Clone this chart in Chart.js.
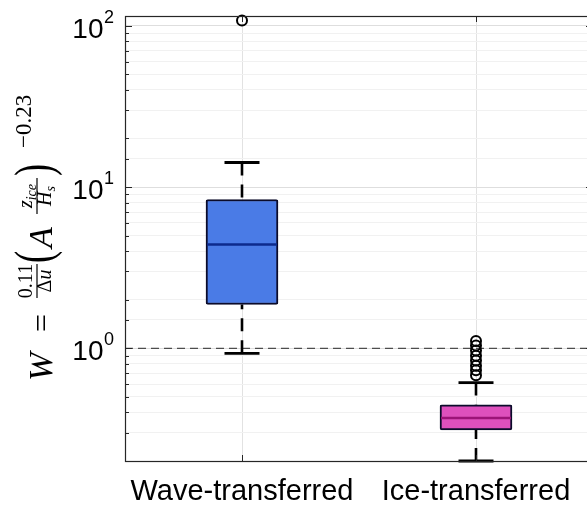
<!DOCTYPE html>
<html>
<head>
<meta charset="utf-8">
<script src="https://cdn.jsdelivr.net/npm/chart.js@4"></script>
<style>
  html, body { margin: 0; padding: 0; background: #fff; overflow: hidden; }
  #wrap { width: 600px; height: 505px; }
</style>
</head>
<body>
<div id="wrap"><canvas id="box-canvas" width="600" height="505"></canvas></div>
<script>
// Box-plot values (log axis).
const categories = ['Wave-transferred', 'Ice-transferred'];
const whiskerLow = [0.93, 0.20];
const q1 = [1.87, 0.312];
const median = [4.40, 0.369];
const q3 = [8.37, 0.446];
const whiskerHigh = [14.2, 0.613];
const outliersWave = [108];
const outliersIce = [1.11, 1.04, 0.97, 0.90, 0.84, 0.78, 0.73, 0.68];
const boxColors = ['#4a7be6', '#de50bd'];
const medianColors = ['#0d2a8c', '#9c1478'];
const yDecades = [0, 1, 2];
const yMin = 0.2, yMax = 115;
const refValue = 1;

const xs = categories.map((_, i) => i + 1);
const outliers = [outliersWave, outliersIce];

const boxData = xs.map((x, i) => ({ x, y: [q1[i], q3[i]] }));
const medianData = xs.map((x, i) => ({ x, y: median[i] }));
const capData = xs.flatMap((x, i) => [{ x, y: whiskerLow[i] }, { x, y: whiskerHigh[i] }]);
const whiskerData = xs.flatMap((x, i) => [
    { x, y: whiskerHigh[i] }, { x, y: q3[i] }, { x, y: null },
    { x, y: whiskerLow[i] }, { x, y: q1[i] }, { x, y: null },
]);
const outlierData = xs.flatMap((x, i) => outliers[i].map(y => ({ x, y })));

const isDecade = v => Math.abs(Math.log10(v) - Math.round(Math.log10(v))) < 1e-9;
const AXIS = '#262626';

function drawYTitle(ctx) {
    const serif = '"Liberation Serif", "DejaVu Serif", serif';
    ctx.save();
    ctx.translate(52, 381);
    ctx.rotate(-Math.PI / 2);
    ctx.fillStyle = '#000';
    ctx.strokeStyle = '#000';
    ctx.textBaseline = 'alphabetic';
    ctx.textAlign = 'left';
    const font = (size, italic) => `${italic ? 'italic ' : ''}${size}px ${serif}`;
    const put = (txt, u, v, size, italic) => {
        ctx.font = font(size, italic);
        ctx.fillText(txt, u, v);
        return ctx.measureText(txt).width;
    };
    const width = (txt, size, italic) => { ctx.font = font(size, italic); return ctx.measureText(txt).width; };
    const paren = (txt, u) => {
        ctx.save();
        ctx.translate(u, -1);
        ctx.scale(0.7, 1);
        put(txt, 0, 0, 52, false);
        ctx.restore();
    };
    const bar = (u0, u1, v) => {
        ctx.lineWidth = 1.2;
        ctx.beginPath(); ctx.moveTo(u0, v); ctx.lineTo(u1, v); ctx.stroke();
    };

    put('W', 0, 0, 34, true);
    put('=', 49, 0, 32, false);

    // 0.11 / Δu
    let c = 100;
    let w = width('0.11', 20, false);
    put('0.11', c - w / 2, -20, 20, false);
    bar(83, 117, -15);
    w = width('Δ', 20, false) + width('u', 20, true);
    let u = c - w / 2;
    u += put('Δ', u, -1, 20, false);
    put('u', u, -1, 20, true);

    paren('(', 118);
    put('A', 133, 0, 34, true);

    // z_ice / H_s
    c = 185;
    w = width('z', 20, true) + width('ice', 14, true);
    u = c - w / 2;
    u += put('z', u, -20, 20, true);
    put('ice', u, -16, 14, true);
    bar(167, 203, -15);
    w = width('H', 20, true) + width('s', 14, true);
    u = c - w / 2;
    u += put('H', u, -1, 20, true);
    put('s', u, 3, 14, true);

    paren(')', 205);
    put('\u22120.23', 233, -21, 23, false);
    ctx.restore();
}

const decorations = {
    id: 'decorations',
    afterDraw(chart) {
        const { ctx, chartArea: a, scales } = chart;
        const ys = scales.y, xsc = scales.x;
        ctx.save();
        // inward tick marks
        ctx.strokeStyle = AXIS;
        ctx.lineWidth = 1;
        ys.ticks.forEach(t => {
            const py = Math.round(ys.getPixelForValue(t.value)) + 0.5;
            const len = isDecade(t.value) ? 7 : 4;
            ctx.beginPath(); ctx.moveTo(a.left, py); ctx.lineTo(a.left + len, py); ctx.stroke();
            ctx.beginPath(); ctx.moveTo(a.right, py); ctx.lineTo(a.right - len, py); ctx.stroke();
        });
        xs.forEach(x => {
            const px = Math.round(xsc.getPixelForValue(x)) + 0.5;
            ctx.beginPath(); ctx.moveTo(px, a.bottom); ctx.lineTo(px, a.bottom - 6); ctx.stroke();
            ctx.beginPath(); ctx.moveTo(px, a.top); ctx.lineTo(px, a.top + 6); ctx.stroke();
        });
        // axes box
        ctx.lineWidth = 1.2;
        ctx.strokeRect(Math.round(a.left) + 0.5, Math.round(a.top) + 0.5, a.right - a.left, a.bottom - a.top);

        // y tick labels 10^n
        ctx.fillStyle = '#000';
        ctx.textBaseline = 'alphabetic';
        const sans = '"Liberation Sans", Arial, sans-serif';
        yDecades.forEach(d => {
            const py = ys.getPixelForValue(Math.pow(10, d));
            ctx.font = `18px ${sans}`;
            const sup = String(d);
            const sw = ctx.measureText(sup).width;
            ctx.textAlign = 'right';
            ctx.fillText(sup, 114, py - 3);
            ctx.font = `28px ${sans}`;
            ctx.fillText('10', 114 - sw - 0.5, py + 12);
        });

        // category labels
        ctx.font = `29px ${sans}`;
        ctx.textAlign = 'center';
        categories.forEach((name, i) => {
            ctx.fillText(name, xsc.getPixelForValue(xs[i]), 500);
        });

        drawYTitle(ctx);
        ctx.restore();
    },
};

new Chart(document.getElementById('box-canvas'), {
    type: 'bar',
    data: {
        datasets: [
            {
                type: 'line', data: [{ x: 0.5, y: refValue }, { x: 2.5, y: refValue }],
                borderColor: '#4d4d4d', borderWidth: 1.3, borderDash: [8, 5],
                pointRadius: 0, order: 6,
            },
            {
                type: 'line', data: whiskerData, spanGaps: false,
                borderColor: '#000', borderWidth: 2.6, borderDash: [13, 9],
                pointRadius: 0, order: 5,
            },
            {
                type: 'bar', data: boxData,
                backgroundColor: boxColors, borderColor: '#0b0b2a', borderWidth: 2,
                borderSkipped: false, borderRadius: 2, barThickness: 72, order: 4,
            },
            {
                type: 'scatter', data: medianData,
                pointStyle: 'line', pointRadius: 35, pointBorderWidth: 2.5,
                pointBorderColor: medianColors, order: 3,
            },
            {
                type: 'scatter', data: capData, clip: false,
                pointStyle: 'line', pointRadius: 17.5, pointBorderWidth: 2.8,
                pointBorderColor: '#000', order: 2,
            },
            {
                type: 'scatter', data: outlierData, clip: false,
                pointStyle: 'circle', pointRadius: 5, pointBorderWidth: 2,
                pointBorderColor: '#000', pointBackgroundColor: 'rgba(0,0,0,0)', order: 1,
            },
        ],
    },
    options: {
        responsive: false,
        animation: false,
        events: [],
        layout: { autoPadding: false, padding: { left: 125, top: 16, right: 7, bottom: 44 } },
        plugins: { legend: { display: false }, tooltip: { enabled: false } },
        scales: {
            x: {
                type: 'linear', min: 0.5, max: 2.5, offset: false,
                afterBuildTicks: s => { s.ticks = xs.map(v => ({ value: v })); },
                afterFit: s => { s.height = 0; },
                ticks: { display: false },
                grid: { color: '#e2e2e2', drawTicks: false, offset: false },
                border: { display: false },
            },
            y: {
                type: 'logarithmic', min: yMin, max: yMax,
                afterFit: s => { s.width = 0; },
                ticks: { display: false },
                grid: {
                    drawTicks: false,
                    color: ctx => isDecade(ctx.tick.value) ? '#dedede' : '#f1f1f1',
                },
                border: { display: false },
            },
        },
    },
    plugins: [decorations],
});
</script>
</body>
</html>
